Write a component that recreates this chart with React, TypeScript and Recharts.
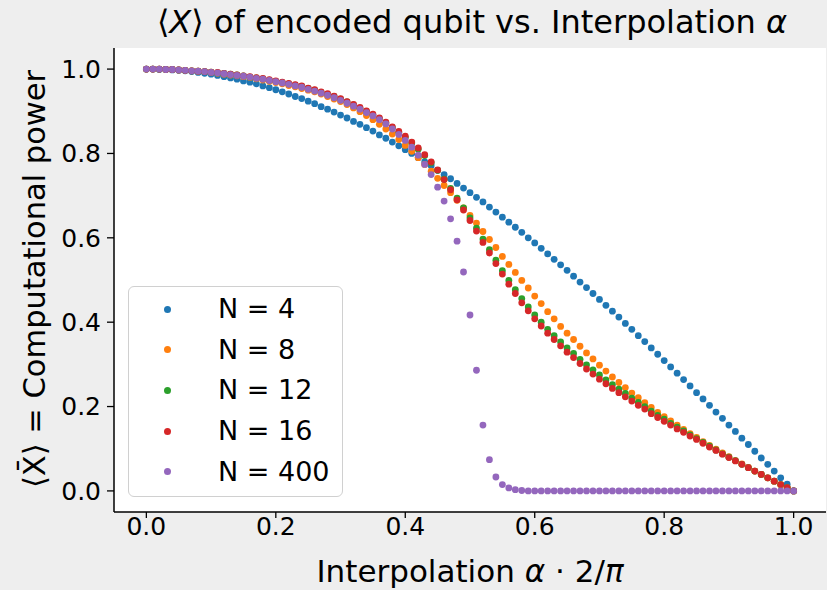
import React from 'react';
import { ScatterChart, Scatter, XAxis, YAxis, CartesianGrid } from 'recharts';

// x positions (alpha * 2/pi)
const xs = [
  0.00, 0.01, 0.02, 0.03, 0.04, 0.05, 0.06, 0.07, 0.08, 0.09,
  0.10, 0.11, 0.12, 0.13, 0.14, 0.15, 0.16, 0.17, 0.18, 0.19,
  0.20, 0.21, 0.22, 0.23, 0.24, 0.25, 0.26, 0.27, 0.28, 0.29,
  0.30, 0.31, 0.32, 0.33, 0.34, 0.35, 0.36, 0.37, 0.38, 0.39,
  0.40, 0.41, 0.42, 0.43, 0.44, 0.45, 0.46, 0.47, 0.48, 0.49,
  0.50, 0.51, 0.52, 0.53, 0.54, 0.55, 0.56, 0.57, 0.58, 0.59,
  0.60, 0.61, 0.62, 0.63, 0.64, 0.65, 0.66, 0.67, 0.68, 0.69,
  0.70, 0.71, 0.72, 0.73, 0.74, 0.75, 0.76, 0.77, 0.78, 0.79,
  0.80, 0.81, 0.82, 0.83, 0.84, 0.85, 0.86, 0.87, 0.88, 0.89,
  0.90, 0.91, 0.92, 0.93, 0.94, 0.95, 0.96, 0.97, 0.98, 0.99,
  1.00,
];

const n4 = [
  1.000, 1.000, 0.999, 0.999, 0.998, 0.997, 0.996, 0.994, 0.992, 0.990,
  0.988, 0.985, 0.982, 0.979, 0.976, 0.972, 0.969, 0.965, 0.960, 0.956,
  0.951, 0.946, 0.941, 0.935, 0.930, 0.924, 0.918, 0.911, 0.905, 0.898,
  0.891, 0.884, 0.876, 0.869, 0.861, 0.853, 0.844, 0.836, 0.827, 0.818,
  0.809, 0.800, 0.790, 0.780, 0.771, 0.760, 0.750, 0.740, 0.729, 0.718,
  0.707, 0.696, 0.685, 0.673, 0.661, 0.649, 0.637, 0.625, 0.613, 0.600,
  0.588, 0.575, 0.562, 0.549, 0.536, 0.523, 0.509, 0.495, 0.482, 0.468,
  0.454, 0.440, 0.426, 0.412, 0.397, 0.383, 0.368, 0.354, 0.339, 0.324,
  0.309, 0.294, 0.279, 0.264, 0.249, 0.233, 0.218, 0.203, 0.187, 0.172,
  0.156, 0.141, 0.125, 0.110, 0.094, 0.078, 0.063, 0.047, 0.031, 0.016,
  0.000,
];

const n8 = [
  1.000, 1.000, 1.000, 0.999, 0.999, 0.998, 0.997, 0.996, 0.995, 0.994,
  0.992, 0.990, 0.988, 0.986, 0.984, 0.982, 0.980, 0.977, 0.974, 0.971,
  0.968, 0.965, 0.961, 0.958, 0.954, 0.950, 0.946, 0.941, 0.935, 0.929,
  0.923, 0.916, 0.908, 0.899, 0.890, 0.880, 0.869, 0.858, 0.846, 0.833,
  0.819, 0.805, 0.790, 0.774, 0.758, 0.741, 0.724, 0.707, 0.689, 0.671,
  0.653, 0.635, 0.615, 0.596, 0.577, 0.556, 0.537, 0.518, 0.499, 0.481,
  0.462, 0.444, 0.425, 0.408, 0.390, 0.374, 0.359, 0.343, 0.327, 0.313,
  0.298, 0.284, 0.270, 0.257, 0.245, 0.232, 0.221, 0.209, 0.198, 0.186,
  0.176, 0.166, 0.156, 0.146, 0.136, 0.127, 0.117, 0.108, 0.099, 0.090,
  0.081, 0.072, 0.064, 0.056, 0.047, 0.039, 0.031, 0.023, 0.015, 0.008,
  0.000,
];

const n12 = [
  1.000, 1.000, 1.000, 0.999, 0.999, 0.998, 0.997, 0.996, 0.995, 0.994,
  0.993, 0.991, 0.990, 0.988, 0.986, 0.984, 0.981, 0.979, 0.977, 0.974,
  0.971, 0.968, 0.965, 0.962, 0.959, 0.954, 0.950, 0.945, 0.940, 0.935,
  0.929, 0.922, 0.915, 0.907, 0.899, 0.891, 0.882, 0.872, 0.861, 0.850,
  0.838, 0.825, 0.810, 0.795, 0.778, 0.760, 0.739, 0.717, 0.694, 0.671,
  0.647, 0.623, 0.597, 0.572, 0.547, 0.522, 0.499, 0.477, 0.456, 0.436,
  0.417, 0.400, 0.383, 0.368, 0.353, 0.339, 0.326, 0.312, 0.299, 0.287,
  0.275, 0.263, 0.252, 0.241, 0.231, 0.220, 0.210, 0.200, 0.189, 0.179,
  0.170, 0.160, 0.151, 0.142, 0.133, 0.124, 0.115, 0.106, 0.097, 0.088,
  0.080, 0.072, 0.063, 0.055, 0.047, 0.039, 0.031, 0.023, 0.015, 0.008,
  0.000,
];

const n16 = [
  1.000, 1.000, 1.000, 0.999, 0.999, 0.998, 0.997, 0.996, 0.995, 0.994,
  0.993, 0.992, 0.990, 0.988, 0.986, 0.984, 0.982, 0.980, 0.978, 0.975,
  0.972, 0.969, 0.966, 0.963, 0.960, 0.955, 0.951, 0.946, 0.942, 0.936,
  0.930, 0.923, 0.916, 0.909, 0.901, 0.893, 0.884, 0.874, 0.863, 0.852,
  0.841, 0.827, 0.813, 0.797, 0.780, 0.761, 0.738, 0.714, 0.690, 0.666,
  0.641, 0.616, 0.589, 0.564, 0.539, 0.514, 0.490, 0.468, 0.446, 0.427,
  0.408, 0.391, 0.374, 0.359, 0.344, 0.329, 0.316, 0.302, 0.289, 0.277,
  0.265, 0.254, 0.243, 0.233, 0.223, 0.213, 0.203, 0.194, 0.183, 0.174,
  0.165, 0.156, 0.147, 0.139, 0.130, 0.122, 0.113, 0.104, 0.096, 0.087,
  0.079, 0.071, 0.063, 0.055, 0.047, 0.039, 0.031, 0.023, 0.015, 0.008,
  0.000,
];

const n400 = [
  1.000, 1.000, 1.000, 0.999, 0.999, 0.998, 0.997, 0.996, 0.995, 0.994,
  0.992, 0.991, 0.989, 0.987, 0.985, 0.983, 0.981, 0.978, 0.976, 0.973,
  0.970, 0.967, 0.964, 0.960, 0.957, 0.952, 0.948, 0.943, 0.938, 0.932,
  0.926, 0.919, 0.912, 0.905, 0.897, 0.889, 0.880, 0.870, 0.858, 0.845,
  0.831, 0.815, 0.796, 0.774, 0.750, 0.720, 0.687, 0.645, 0.592, 0.519,
  0.417, 0.286, 0.156, 0.074, 0.033, 0.015, 0.007, 0.003, 0.001, 0.000,
  0.000, 0.000, 0.000, 0.000, 0.000, 0.000, 0.000, 0.000, 0.000, 0.000,
  0.000, 0.000, 0.000, 0.000, 0.000, 0.000, 0.000, 0.000, 0.000, 0.000,
  0.000, 0.000, 0.000, 0.000, 0.000, 0.000, 0.000, 0.000, 0.000, 0.000,
  0.000, 0.000, 0.000, 0.000, 0.000, 0.000, 0.000, 0.000, 0.000, 0.000,
  0.000,
];

const seriesLabels = ['N = 4', 'N = 8', 'N = 12', 'N = 16', 'N = 400'];
const seriesColors = ['#1f77b4', '#ff7f0e', '#2ca02c', '#d62728', '#9467bd'];
const seriesValues = [n4, n8, n12, n16, n400];
const axisTicks = [0, 0.2, 0.4, 0.6, 0.8, 1.0];

const FONT = '"DejaVu Sans", sans-serif';

const makeShape = (color: string) => (props: any) => {
  if (props.cx == null || props.cy == null) return <g />;
  return <circle cx={props.cx} cy={props.cy} r={3.4} fill={color} />;
};

export default function App() {
  const tickStyle = { fill: '#000', fontSize: 25, fontFamily: FONT };
  return (
    <div
      style={{
        position: 'absolute',
        left: 0,
        top: 0,
        width: 827,
        height: 590,
        background: '#eeeeee',
        fontFamily: FONT,
        overflow: 'hidden',
      }}
    >
      <ScatterChart width={827} height={590} margin={{ top: 48, right: 1, bottom: 0, left: 0 }}>
        <CartesianGrid horizontal={false} vertical={false} fill="#ffffff" />
        <XAxis
          type="number"
          dataKey="x"
          domain={[-0.05, 1.05]}
          ticks={axisTicks}
          tickFormatter={(v: number) => v.toFixed(1)}
          allowDataOverflow
          height={78}
          tickSize={6}
          tickMargin={-1}
          tick={tickStyle}
          axisLine={{ stroke: '#000', strokeWidth: 1.5 }}
          tickLine={{ stroke: '#000', strokeWidth: 1.3 }}
        />
        <XAxis
          xAxisId="top"
          orientation="top"
          type="number"
          dataKey="x"
          domain={[-0.05, 1.05]}
          height={0}
          tick={false}
          tickLine={false}
          axisLine={{ stroke: '#000', strokeWidth: 1.5 }}
        />
        <YAxis
          type="number"
          dataKey="y"
          domain={[-0.05, 1.05]}
          ticks={axisTicks}
          tickFormatter={(v: number) => v.toFixed(1)}
          allowDataOverflow
          width={114}
          tickSize={7}
          tickMargin={6}
          tick={tickStyle}
          axisLine={{ stroke: '#000', strokeWidth: 1.5 }}
          tickLine={{ stroke: '#000', strokeWidth: 1.3 }}
        />
        <YAxis
          yAxisId="right"
          orientation="right"
          type="number"
          dataKey="y"
          domain={[-0.05, 1.05]}
          width={0}
          tick={false}
          tickLine={false}
          axisLine={{ stroke: '#000', strokeWidth: 1.5 }}
        />
        {seriesValues.map((ys, si) => (
          <Scatter
            key={seriesLabels[si]}
            name={seriesLabels[si]}
            data={xs.map((x, i) => ({ x, y: ys[i] }))}
            fill={seriesColors[si]}
            shape={makeShape(seriesColors[si])}
            isAnimationActive={false}
          />
        ))}
      </ScatterChart>

      {/* Title */}
      <div
        style={{
          position: 'absolute',
          left: 114,
          width: 716,
          top: 3,
          textAlign: 'center',
          fontSize: 32,
          lineHeight: '38px',
          color: '#000',
          whiteSpace: 'nowrap',
        }}
      >
        ⟨<i>X</i>⟩ of encoded qubit vs. Interpolation <i>α</i>
      </div>

      {/* X label */}
      <div
        style={{
          position: 'absolute',
          left: 114,
          width: 712,
          top: 553,
          textAlign: 'center',
          fontSize: 31,
          lineHeight: '36px',
          color: '#000',
          whiteSpace: 'nowrap',
        }}
      >
        Interpolation <i>α</i> · 2/<i>π</i>
      </div>

      {/* Y label */}
      <div
        style={{
          position: 'absolute',
          left: 35 - 260,
          top: 279 - 18,
          width: 520,
          height: 36,
          lineHeight: '36px',
          textAlign: 'center',
          fontSize: 30.5,
          color: '#000',
          whiteSpace: 'nowrap',
          transform: 'rotate(-90deg)',
          transformOrigin: '50% 50%',
        }}
      >
        ⟨X&#772;⟩ = Computational power
      </div>

      {/* Legend */}
      <div
        style={{
          position: 'absolute',
          left: 128,
          top: 286,
          width: 215,
          height: 211,
          boxSizing: 'border-box',
          border: '1.5px solid #d0d0d0',
          borderRadius: 6,
          background: 'rgba(255,255,255,0.85)',
        }}
      >
        {seriesLabels.map((lab, i) => {
          const cy = 22 + i * 40.7;
          return (
            <div key={lab}>
              <div
                style={{
                  position: 'absolute',
                  left: 38.7 - 3.5,
                  top: cy - 3.5,
                  width: 7,
                  height: 7,
                  borderRadius: '50%',
                  background: seriesColors[i],
                }}
              />
              <div
                style={{
                  position: 'absolute',
                  left: 89,
                  top: cy - 17,
                  height: 34,
                  lineHeight: '34px',
                  fontSize: 27,
                  color: '#000',
                  whiteSpace: 'nowrap',
                }}
              >
                {lab}
              </div>
            </div>
          );
        })}
      </div>
    </div>
  );
}
